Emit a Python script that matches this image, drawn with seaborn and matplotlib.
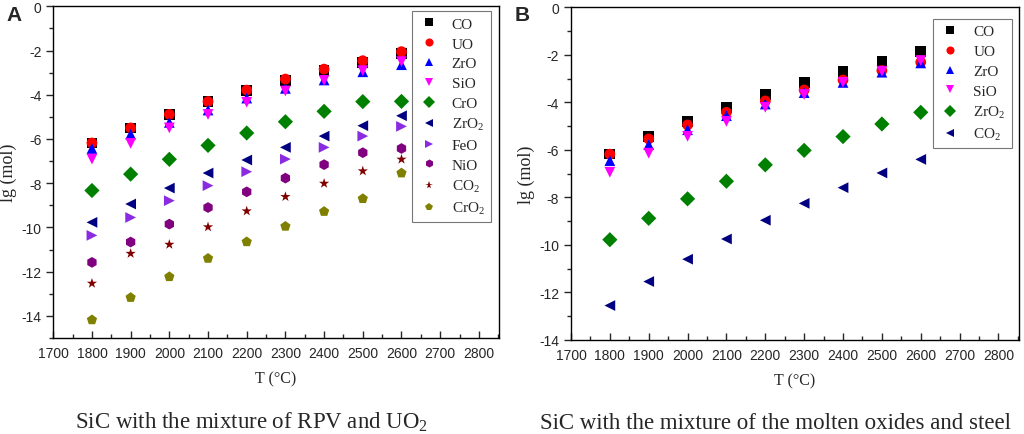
import numpy as np
import pandas as pd
import matplotlib
matplotlib.use("Agg")
import matplotlib.pyplot as plt
from matplotlib.ticker import MultipleLocator
import seaborn as sns

# temperatures (°C)
temps = [1800, 1900, 2000, 2100, 2200, 2300, 2400, 2500, 2600]

# panel A: SiC with the mixture of RPV and UO2
a_co = [-6.18, -5.50, -4.89, -4.31, -3.82, -3.35, -2.90, -2.55, -2.12]
a_uo = [-6.18, -5.50, -4.89, -4.31, -3.79, -3.29, -2.84, -2.46, -2.05]
a_zro = [-6.43, -5.78, -5.25, -4.69, -4.15, -3.71, -3.33, -2.96, -2.64]
a_sio = [-6.91, -6.20, -5.50, -4.89, -4.34, -3.83, -3.35, -2.91, -2.50]
a_cro = [-8.33, -7.59, -6.92, -6.29, -5.73, -5.22, -4.75, -4.31, -4.30]
a_zro2 = [-9.77, -8.94, -8.22, -7.54, -6.95, -6.38, -5.87, -5.40, -4.95]
a_feo = [-10.36, -9.55, -8.79, -8.11, -7.48, -6.91, -6.38, -5.87, -5.43]
a_nio = [-11.58, -10.66, -9.85, -9.10, -8.39, -7.77, -7.16, -6.62, -6.43]
a_co2 = [-12.53, -11.18, -10.77, -9.98, -9.26, -8.61, -8.01, -7.45, -6.92]
a_cro2 = [-14.18, -13.17, -12.23, -11.40, -10.65, -9.95, -9.28, -8.70, -7.54]

# panel B: SiC with the mixture of the molten oxides and steel
b_co = [-6.17, -5.43, -4.81, -4.21, -3.66, -3.17, -2.69, -2.27, -1.87]
b_uo = [-6.18, -5.54, -4.95, -4.42, -3.94, -3.48, -3.06, -2.66, -2.31]
b_zro = [-6.45, -5.78, -5.15, -4.56, -4.07, -3.59, -3.16, -2.73, -2.34]
b_sio = [-6.94, -6.14, -5.43, -4.80, -4.21, -3.67, -3.16, -2.69, -2.24]
b_zro2 = [-9.78, -8.88, -8.06, -7.32, -6.63, -6.02, -5.44, -4.91, -4.42]
b_co2 = [-12.55, -11.54, -10.60, -9.75, -8.96, -8.25, -7.59, -6.97, -6.40]

names_a = ["CO", "UO", "ZrO", "SiO", "CrO", "ZrO$_2$", "FeO", "NiO", "CO$_2$", "CrO$_2$"]
vals_a = [a_co, a_uo, a_zro, a_sio, a_cro, a_zro2, a_feo, a_nio, a_co2, a_cro2]
marks_a = ["s", "o", "^", "v", "D", "<", ">", "h", "*", "p"]
cols_a = ["#000000", "#ff0000", "#0000ff", "#ff00ff", "#008000", "#000080",
          "#8a2be2", "#800080", "#800000", "#808000"]

names_b = ["CO", "UO", "ZrO", "SiO", "ZrO$_2$", "CO$_2$"]
vals_b = [b_co, b_uo, b_zro, b_sio, b_zro2, b_co2]
marks_b = ["s", "o", "^", "v", "D", "<"]
cols_b = ["#000000", "#ff0000", "#0000ff", "#ff00ff", "#008000", "#000080"]

sns.set_theme(style="white")
plt.rcParams["font.family"] = ["Liberation Sans", "DejaVu Sans"]
plt.rcParams["mathtext.fontset"] = "custom"
plt.rcParams["mathtext.rm"] = "Liberation Serif"
plt.rcParams["mathtext.it"] = "Liberation Serif:italic"
plt.rcParams["axes.unicode_minus"] = False

fig = plt.figure(figsize=(10.24, 4.35), dpi=100)
ax_a = fig.add_axes([0.052, 0.2207, 0.4353, 0.7625])
ax_b = fig.add_axes([0.5576, 0.2161, 0.4372, 0.7648])


def draw(ax, names, vals, marks, cols, ylow, leg_box):
    df = pd.DataFrame({
        "T": np.tile(temps, len(names)),
        "lg": np.concatenate(vals),
        "sp": np.repeat(names, len(temps)),
    })
    sns.scatterplot(data=df, x="T", y="lg", hue="sp", style="sp",
                    hue_order=names, style_order=names,
                    palette=dict(zip(names, cols)), markers=dict(zip(names, marks)),
                    s=60, linewidth=0, ax=ax, legend=True)
    ax.set_xlim(1700, 2852)
    ax.set_ylim(ylow, 0)
    ax.xaxis.set_major_locator(MultipleLocator(100))
    ax.xaxis.set_minor_locator(MultipleLocator(50))
    ax.yaxis.set_major_locator(MultipleLocator(2))
    ax.yaxis.set_minor_locator(MultipleLocator(1))
    ax.tick_params(axis="x", which="both", direction="in", bottom=True, labelsize=10, pad=6)
    ax.tick_params(axis="x", which="major", length=5, width=1)
    ax.tick_params(axis="x", which="minor", length=3, width=1)
    ax.tick_params(axis="y", which="both", direction="out", left=True, labelsize=10)
    ax.tick_params(axis="y", which="major", length=5, width=1)
    ax.tick_params(axis="y", which="minor", length=3, width=1)
    for sp in ax.spines.values():
        sp.set_color("black")
        sp.set_linewidth(1.0)
    ax.set_xlabel("T (°C)", family="Liberation Serif", fontsize=11.5, labelpad=7)
    ax.set_ylabel("lg (mol)", family="Liberation Serif", fontsize=13, labelpad=3)
    handles, labels = ax.get_legend_handles_labels()
    leg = ax.legend(handles, labels, loc="upper right", bbox_to_anchor=leg_box,
                    frameon=True, fancybox=False, edgecolor="#555555",
                    prop={"family": "Liberation Serif", "size": 11},
                    handletextpad=0.8, labelspacing=0.4, borderpad=0.4,
                    borderaxespad=0.0, handlelength=1.4, markerscale=0.75)
    leg.get_frame().set_linewidth(0.8)


draw(ax_a, names_a, vals_a, marks_a, cols_a, -15, (0.982, 0.986))
draw(ax_b, names_b, vals_b, marks_b, cols_b, -14, (0.984, 0.966))

fig.text(0.006, 0.965, "A", fontsize=15, fontweight="bold", ha="left", va="center")
fig.text(0.503, 0.965, "B", fontsize=15, fontweight="bold", ha="left", va="center")

fig.text(0.246, 0.014, "SiC with the mixture of RPV and UO$_2$",
         family="Liberation Serif", fontsize=16.5, ha="center", va="baseline")
fig.text(0.757, 0.014, "SiC with the mixture of the molten oxides and steel",
         family="Liberation Serif", fontsize=16.5, ha="center", va="baseline")

fig.savefig("out.png", dpi=100)
